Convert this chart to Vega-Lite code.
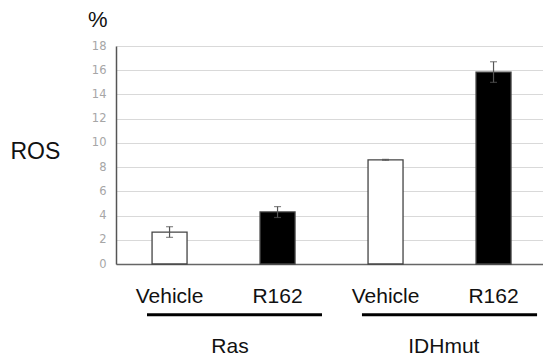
{
  "$schema": "https://vega.github.io/schema/vega-lite/v6.json",
  "width": 427,
  "height": 218,
  "autosize": {"type": "none"},
  "padding": {"left": 116, "top": 46, "right": 0, "bottom": 94},
  "background": "white",
  "config": {
    "view": {"stroke": null},
    "axisY": {
      "tickCount": 9, "labelOverlap": false, "ticks": false,
      "labelFont": "DejaVu Sans", "labelFontSize": 11.5, "labelColor": "#a6a6a6", "labelPadding": 10,
      "domainColor": "#555", "domainWidth": 1.5,
      "grid": true, "gridColor": "#d9d9d9", "gridWidth": 1,
      "titleAngle": 0, "titleFont": "Liberation Sans", "titleFontSize": 23,
      "titleFontWeight": "normal", "titleColor": "#111", "titleX": -106, "titleY": 112,
      "titleAlign": "left", "titleBaseline": "alphabetic"
    }
  },
  "title": {"text": "%", "anchor": "start", "frame": "group", "font": "Liberation Sans", "fontSize": 22, "fontWeight": "normal", "color": "#111", "dx": -28, "offset": 8},
  "datasets": {
    "bars": [
      {"bar": "Ras|Vehicle", "group": "Ras", "treatment": "Vehicle", "ros": 2.64, "lo": 2.2, "hi": 3.08},
      {"bar": "Ras|R162", "group": "Ras", "treatment": "R162", "ros": 4.3, "lo": 3.84, "hi": 4.74},
      {"bar": "IDHmut|Vehicle", "group": "IDHmut", "treatment": "Vehicle", "ros": 8.6, "lo": 8.56, "hi": 8.64},
      {"bar": "IDHmut|R162", "group": "IDHmut", "treatment": "R162", "ros": 15.85, "lo": 15.0, "hi": 16.7}
    ],
    "groups": [
      {"group": "Ras", "start": -0.208, "end": 1.412, "mid": 0.56, "line_y": -4.2, "label_y": -6.85},
      {"group": "IDHmut", "start": 1.782, "end": 3.403, "mid": 2.54, "line_y": -4.2, "label_y": -6.85}
    ]
  },
  "resolve": {"scale": {"x": "independent"}},
  "layer": [
    {
      "layer": [
        {
          "data": {"name": "bars"},
          "mark": {"type": "bar", "stroke": "#444", "strokeWidth": 1.3},
          "encoding": {
            "x": {
              "field": "bar", "type": "nominal", "sort": null,
              "scale": {"paddingInner": 0.676, "paddingOuter": 0.315, "align": 0.53},
              "axis": {
                "title": null, "labelExpr": "split(datum.label, '|')[1]", "labelAngle": 0,
                "labelFont": "Liberation Sans", "labelFontSize": 21, "labelColor": "#111",
                "ticks": false, "labelPadding": 21, "domainColor": "#666", "domainWidth": 1.5
              }
            },
            "y": {
              "field": "ros", "type": "quantitative", "title": "ROS",
              "scale": {"domain": [0, 18], "nice": false}
            },
            "fill": {
              "field": "treatment", "type": "nominal",
              "scale": {"domain": ["Vehicle", "R162"], "range": ["#ffffff", "#000000"]},
              "legend": null
            }
          }
        },
        {
          "data": {"name": "bars"},
          "mark": {"type": "rule", "color": "#555", "strokeWidth": 1.2},
          "encoding": {
            "x": {"field": "bar", "type": "nominal", "sort": null},
            "y": {"field": "lo", "type": "quantitative", "title": "ROS"},
            "y2": {"field": "hi"}
          }
        },
        {
          "data": {"name": "bars"},
          "mark": {"type": "tick", "color": "#555", "size": 7, "thickness": 1.2, "orient": "horizontal"},
          "encoding": {
            "x": {"field": "bar", "type": "nominal", "sort": null},
            "y": {"field": "hi", "type": "quantitative", "title": "ROS"}
          }
        },
        {
          "data": {"name": "bars"},
          "mark": {"type": "tick", "color": "#555", "size": 7, "thickness": 1.2, "orient": "horizontal"},
          "encoding": {
            "x": {"field": "bar", "type": "nominal", "sort": null},
            "y": {"field": "lo", "type": "quantitative", "title": "ROS"}
          }
        }
      ]
    },
    {
      "data": {"name": "groups"},
      "layer": [
        {
          "mark": {"type": "rule", "color": "#000", "strokeWidth": 3},
          "encoding": {
            "x": {"field": "start", "type": "quantitative", "scale": {"domain": [-0.495, 3.458], "nice": false, "zero": false}, "axis": null},
            "x2": {"field": "end"},
            "y": {"field": "line_y", "type": "quantitative", "title": "ROS"}
          }
        },
        {
          "mark": {"type": "text", "font": "Liberation Sans", "fontSize": 21, "color": "#111", "baseline": "middle", "align": "center"},
          "encoding": {
            "x": {"field": "mid", "type": "quantitative", "scale": {"domain": [-0.495, 3.458], "nice": false, "zero": false}, "axis": null},
            "y": {"field": "label_y", "type": "quantitative", "title": "ROS"},
            "text": {"field": "group"}
          }
        }
      ]
    }
  ]
}
